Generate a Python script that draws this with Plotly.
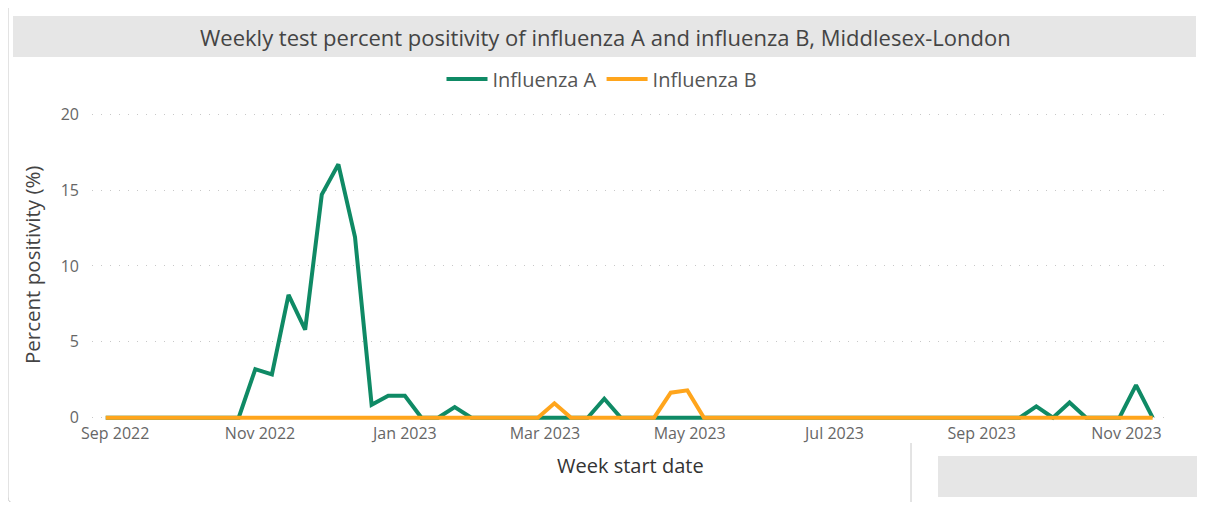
import plotly.graph_objects as go
import pandas as pd

# ---- data ----
start_week = "2022-08-28"
n_weeks = 64
week_dates = pd.date_range(start_week, periods=n_weeks, freq="7D")

influenza_a = [0, 0, 0, 0, 0, 0, 0, 0, 0, 3.2, 2.85, 8.1, 5.8, 14.7, 16.7, 11.9,
               0.85, 1.45, 1.45, 0, 0, 0.7, 0, 0, 0, 0, 0, 0, 0, 0,
               1.25, 0, 0, 0, 0, 0, 0, 0, 0, 0, 0, 0, 0, 0, 0, 0, 0, 0, 0, 0,
               0, 0, 0, 0, 0, 0, 0.75, 0, 1.0, 0, 0, 0, 2.15, 0]
influenza_b = [0, 0, 0, 0, 0, 0, 0, 0, 0, 0, 0, 0, 0, 0, 0, 0,
               0, 0, 0, 0, 0, 0, 0, 0, 0, 0, 0, 0.95, 0, 0,
               0, 0, 0, 0, 1.65, 1.8, 0, 0, 0, 0, 0, 0, 0, 0, 0, 0, 0, 0, 0, 0,
               0, 0, 0, 0, 0, 0, 0, 0, 0, 0, 0, 0, 0, 0]

x_tick_vals = ["2022-09-01", "2022-11-01", "2023-01-01", "2023-03-01",
               "2023-05-01", "2023-07-01", "2023-09-01", "2023-11-01"]
x_tick_text = ["Sep 2022", "Nov 2022", "Jan 2023", "Mar 2023",
               "May 2023", "Jul 2023", "Sep 2023", "Nov 2023"]
y_tick_vals = [0, 5, 10, 15, 20]

title_text = "Weekly test percent positivity of influenza A and influenza B, Middlesex-London"
x_title = "Week start date"
y_title = "Percent positivity (%)"

GREEN = "#0F8A65"
ORANGE = "#FFA51C"
FONT = "Open Sans"

OFF = 8  # page body margin
W, H = 1205 - OFF, 512 - 2 * OFF - 2
L, T = 92 - OFF, 110 - OFF
PW, PH = 1073, 312
R, B = W - L - PW, H - T - PH


def px(x):
    return (x - OFF - L) / PW


def py(y):
    return (T + PH - (y - OFF)) / PH


fig = go.Figure()
fig.add_trace(go.Scatter(x=week_dates, y=influenza_a, mode="lines", name="Influenza A",
                         line=dict(color=GREEN, width=4)))
fig.add_trace(go.Scatter(x=week_dates, y=influenza_b, mode="lines", name="Influenza B",
                         line=dict(color=ORANGE, width=4)))

shapes = [
    dict(type="rect", xref="paper", yref="paper", x0=px(13), x1=px(1196), y0=py(16), y1=py(57),
         fillcolor="#E6E6E6", line=dict(width=0), layer="below"),
    dict(type="line", xref="paper", yref="paper", x0=px(8), x1=px(8), y0=py(8), y1=py(497),
         line=dict(color="#C8C8C8", width=1)),
    dict(type="path", xref="paper", yref="paper",
         path=f"M {px(8)},{py(497)} Q {px(8)},{py(503)} {px(14)},{py(503)}",
         line=dict(color="#C8C8C8", width=1)),
    dict(type="line", xref="paper", yref="paper", x0=px(1201), x1=px(1201), y0=py(8), y1=py(442),
         line=dict(color="#C8C8C8", width=1)),
    dict(type="line", xref="paper", yref="paper", x0=px(911), x1=px(911), y0=py(443), y1=py(512),
         line=dict(color="#C8C8C8", width=1)),
    dict(type="rect", xref="paper", yref="paper", x0=px(938), x1=px(1205), y0=py(456), y1=py(497),
         fillcolor="#E6E6E6", line=dict(width=0), layer="below"),
]

annotations = [
    dict(text=title_text, xref="paper", yref="paper", x=px(605), y=py(37),
         xanchor="center", yanchor="middle", showarrow=False,
         font=dict(family=FONT, size=22, color="#444444")),
    dict(text=x_title, xref="paper", yref="paper", x=px(630), y=py(465),
         xanchor="center", yanchor="middle", showarrow=False,
         font=dict(family=FONT, size=20, color="#333333")),
    dict(text=y_title, xref="paper", yref="paper", x=px(32), y=py(265),
         xanchor="center", yanchor="middle", showarrow=False, textangle=-90,
         font=dict(family=FONT, size=20.5, color="#444444")),
]

fig.update_layout(
    width=W, height=H,
    margin=dict(l=L, r=R, t=T, b=B, autoexpand=False),
    paper_bgcolor="white", plot_bgcolor="white",
    font=dict(family=FONT, color="#666666"),
    showlegend=True,
    legend=dict(orientation="h", xref="container", yref="container",
                x=(602 - OFF) / W, xanchor="center", y=1 - (79 - OFF) / H, yanchor="middle",
                font=dict(size=20, color="#555555"), itemwidth=41,
                tracegroupgap=0, bgcolor="rgba(0,0,0,0)"),
    annotations=annotations,
    shapes=shapes,
    xaxis=dict(type="date", automargin=False,
               range=["2022-08-22 05:00", "2023-11-17 05:00"],
               tickvals=x_tick_vals, ticktext=x_tick_text,
               showgrid=False, zeroline=False, showline=False, ticks="",
               tickfont=dict(size=16, color="#666666")),
    yaxis=dict(range=[-0.283, 20.28], tickvals=y_tick_vals, automargin=False,
               showgrid=True, gridcolor="#C8C8C8", griddash="1px,8px", gridwidth=1,
               zeroline=False, showline=False, ticks="",
               ticklabelstandoff=12,
               tickfont=dict(size=16, color="#666666")),
)

fig.write_html("out.html")
